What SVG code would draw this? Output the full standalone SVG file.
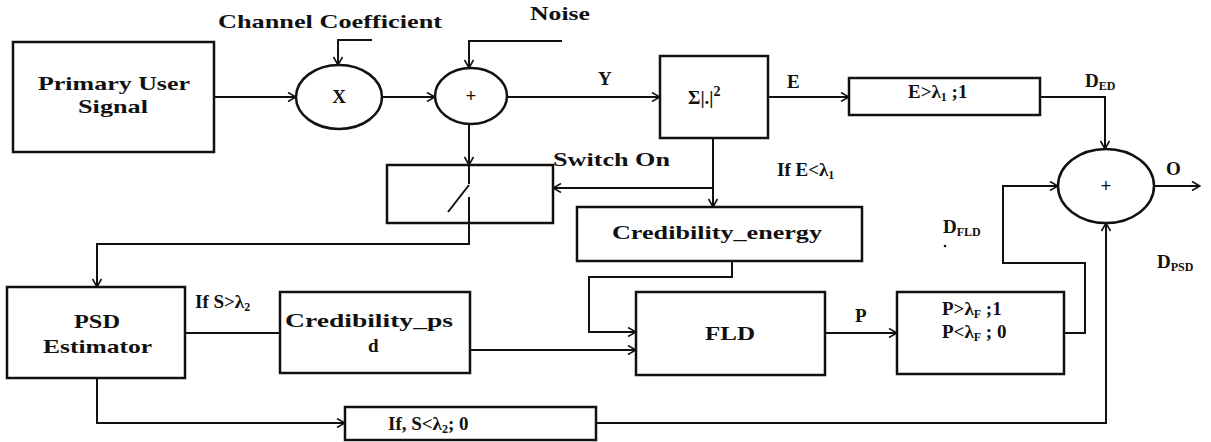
<svg xmlns="http://www.w3.org/2000/svg" width="1211" height="442" viewBox="0 0 1211 442">
<style>
.t{font-family:"Liberation Serif","Times New Roman",serif;font-weight:bold;font-size:19px;fill:#111}
.s{font-size:12px}
.box{fill:#fff;stroke:#111;stroke-width:2.5}
.ln{fill:none;stroke:#111;stroke-width:2}
</style>
<defs>
<marker id="a" markerWidth="10" markerHeight="10" refX="9" refY="5" orient="auto" markerUnits="userSpaceOnUse">
<path d="M1,0.5 L9,5 L1,9.5" fill="none" stroke="#111" stroke-width="1.6"/>
</marker>
</defs>
<rect width="1211" height="442" fill="#fff"/>
<g id="connectors">
<path class="ln" d="M214,97 H296" marker-end="url(#a)"/>
<path class="ln" d="M372,40 H338 V65" marker-end="url(#a)"/>
<path class="ln" d="M382,97 H435" marker-end="url(#a)"/>
<path class="ln" d="M562,41 H469 V68" marker-end="url(#a)"/>
<path class="ln" d="M507,97 H660" marker-end="url(#a)"/>
<path class="ln" d="M768,97 H849" marker-end="url(#a)"/>
<path class="ln" d="M1040,97 H1105 V149" marker-end="url(#a)"/>
<path class="ln" d="M1154,186 H1200" marker-end="url(#a)"/>
<path class="ln" d="M713,138 V207" marker-end="url(#a)"/>
<path class="ln" d="M713,188 H553" marker-end="url(#a)"/>
<path class="ln" d="M469,124 V165" marker-end="url(#a)"/>
<path class="ln" d="M469,197 V244 H97 V287" marker-end="url(#a)"/>
<path class="ln" d="M732,261 V277 H589 V332 H636" marker-end="url(#a)"/>
<path class="ln" d="M470,350 H636" marker-end="url(#a)"/>
<path class="ln" d="M185,333 H280"/>
<path class="ln" d="M825,333 H897" marker-end="url(#a)"/>
<path class="ln" d="M1064,333 H1085 V263 H1003 V186 H1058" marker-end="url(#a)"/>
<path class="ln" d="M97,378 V423 H345" marker-end="url(#a)"/>
<path class="ln" d="M596,423 H1106 V223" marker-end="url(#a)"/>
</g>
<g id="labels">
<text class="t" x="218" y="28" textLength="224" lengthAdjust="spacingAndGlyphs">Channel Coefficient</text>
<text class="t" x="530" y="20" textLength="60" lengthAdjust="spacingAndGlyphs">Noise</text>
<text class="t" x="598" y="85" font-size="20">Y</text>
<text class="t" x="787" y="88" font-size="20">E</text>
<text class="t" x="1085" y="87" font-size="20">D<tspan class="s" dy="3">ED</tspan></text>
<text class="t" x="1166" y="175" font-size="20">O</text>
<text class="t" x="553" y="166" textLength="117" lengthAdjust="spacingAndGlyphs">Switch On</text>
<text class="t" x="777" y="176" font-size="17">If E&lt;λ<tspan class="s" dy="3">1</tspan></text>
<text class="t" x="943" y="233">D<tspan class="s" dy="3">FLD</tspan></text>
<circle cx="945" cy="246" r="1.3" fill="#111"/>
<text class="t" x="195" y="308" font-size="17">If S&gt;λ<tspan class="s" dy="3">2</tspan></text>
<text class="t" x="855" y="322" font-size="20">P</text>
<text class="t" x="1157" y="268" font-size="20">D<tspan class="s" dy="3">PSD</tspan></text>
</g>
<g id="pus">
<rect class="box" x="13" y="42" width="201" height="110"/>
<text class="t" x="38" y="90" textLength="152" lengthAdjust="spacingAndGlyphs">Primary User</text>
<text class="t" x="78" y="113" textLength="70" lengthAdjust="spacingAndGlyphs">Signal</text>
</g>
<g id="mult">
<ellipse class="box" cx="339" cy="97" rx="43" ry="32"/>
<text class="t" x="339" y="103" text-anchor="middle" font-size="20">X</text>
</g>
<g id="add">
<ellipse class="box" cx="471" cy="96" rx="36" ry="28"/>
<text class="t" x="471" y="102" text-anchor="middle" font-weight="normal" font-size="17">+</text>
</g>
<g id="sigma">
<rect class="box" x="660" y="56" width="108" height="82"/>
<text class="t" x="688" y="104" font-size="20">Σ|.|<tspan font-size="14" dy="-8">2</tspan></text>
</g>
<g id="thr1">
<rect class="box" x="849" y="78" width="191" height="37"/>
<text class="t" x="908" y="98" font-weight="normal" font-size="18">E&gt;λ<tspan class="s" dy="3">1</tspan><tspan dy="-3"> ;1</tspan></text>
</g>
<g id="sum">
<ellipse class="box" cx="1106" cy="186" rx="48" ry="37"/>
<text class="t" x="1106" y="192" text-anchor="middle" font-weight="normal" font-size="17">+</text>
</g>
<g id="switch">
<rect class="box" x="387" y="165" width="166" height="58"/>
<path class="ln" d="M469,165 V184 M448,212 L469,185"/>
<path class="ln" d="M469,197 V223"/>
</g>
<g id="ce">
<rect class="box" x="577" y="207" width="285" height="54"/>
<text class="t" x="612" y="239" textLength="210" lengthAdjust="spacingAndGlyphs">Credibility_energy</text>
</g>
<g id="psd">
<rect class="box" x="7" y="287" width="178" height="91"/>
<text class="t" x="74" y="328" textLength="46" lengthAdjust="spacingAndGlyphs">PSD</text>
<text class="t" x="43" y="353" textLength="109" lengthAdjust="spacingAndGlyphs">Estimator</text>
</g>
<g id="cps">
<rect class="box" x="280" y="292" width="190" height="81"/>
<text class="t" x="285" y="327" textLength="168" lengthAdjust="spacingAndGlyphs">Credibility_ps</text>
<text class="t" x="368" y="352">d</text>
</g>
<g id="fld">
<rect class="box" x="636" y="292" width="189" height="83"/>
<text class="t" x="705" y="340" textLength="50" lengthAdjust="spacingAndGlyphs">FLD</text>
</g>
<g id="pthr">
<rect class="box" x="897" y="292" width="167" height="82"/>
<text class="t" x="942" y="315">P&gt;λ<tspan class="s" dy="3">F</tspan><tspan dy="-3"> ;1</tspan></text>
<text class="t" x="942" y="338">P&lt;λ<tspan class="s" dy="3">F</tspan><tspan dy="-3"> ; 0</tspan></text>
</g>
<g id="s0">
<rect class="box" x="345" y="407" width="251" height="33"/>
<text class="t" x="388" y="430">If, S&lt;λ<tspan class="s" dy="3">2</tspan><tspan dy="-3">; 0</tspan></text>
</g>
</svg>
